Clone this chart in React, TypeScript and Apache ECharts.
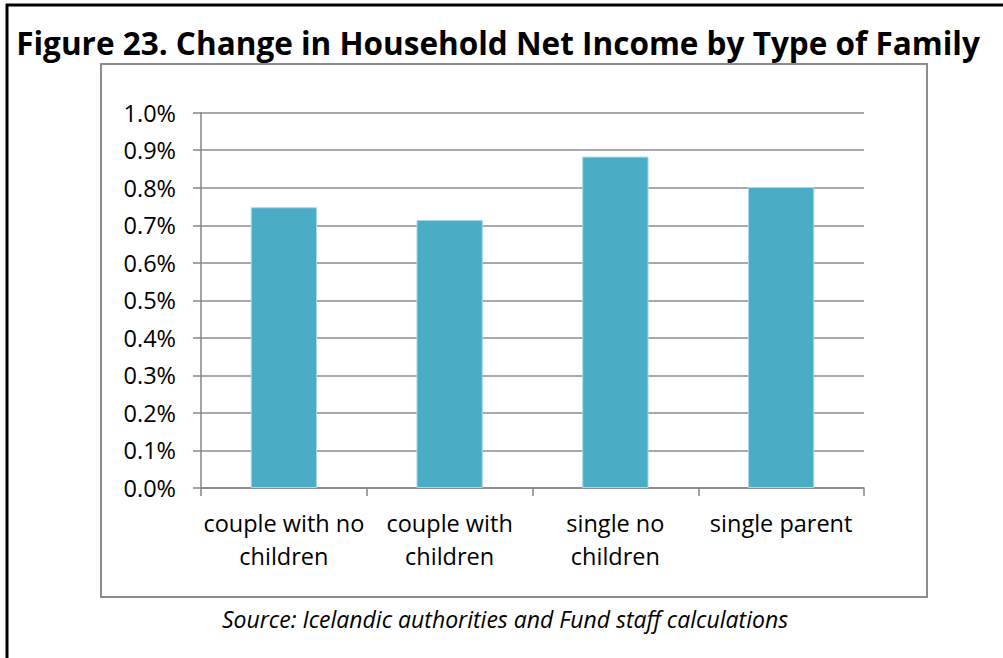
import React, { useEffect, useRef } from "react";
import * as echarts from "echarts";

const categories = ["couple with no\nchildren", "couple with\nchildren", "single no\nchildren", "single parent"];
const values = [0.748, 0.714, 0.883, 0.802];
const titleText = "Figure 23. Change in Household Net Income by Type of Family";
const sourceText = "Source: Icelandic authorities and Fund staff calculations";

const FONT = "'Open Sans', 'Noto Sans', sans-serif";

export default function App() {
  const ref = useRef<HTMLDivElement>(null);
  useEffect(() => {
    document.body.style.margin = "0";
    const chart = echarts.init(ref.current!, null, { renderer: "svg" });
    chart.setOption({
      animation: false,
      backgroundColor: "#ffffff",
      graphic: [
        { type: "line", shape: { x1: 7, y1: 4, x2: 7, y2: 658 }, style: { stroke: "#000", lineWidth: 3 } },
        { type: "line", shape: { x1: 6, y1: 5, x2: 1003, y2: 5 }, style: { stroke: "#000", lineWidth: 3 } },
        { type: "rect", shape: { x: 101, y: 64, width: 826, height: 533 }, style: { fill: "none", stroke: "#8c8c8c", lineWidth: 2 }, z: -1 },
        {
          type: "text", x: 498, y: 42,
          style: { text: titleText, font: `bold 31.5px ${FONT}`, fill: "#000", textAlign: "center", textVerticalAlign: "middle" },
        },
        {
          type: "text", x: 505, y: 619,
          style: { text: sourceText, font: `italic 23px ${FONT}`, fill: "#000", textAlign: "center", textVerticalAlign: "middle" },
        },
      ],
      grid: { left: 201, right: 139, top: 112.7, bottom: 170, containLabel: false },
      xAxis: {
        type: "category",
        data: categories,
        axisLine: { show: true, lineStyle: { color: "#868686", width: 1.5 } },
        axisTick: { show: true, length: 8, alignWithLabel: false, lineStyle: { color: "#868686", width: 1.5 } },
        axisLabel: { color: "#000", fontFamily: FONT, fontSize: 23.5, lineHeight: 33, margin: 18, interval: 0 },
      },
      yAxis: {
        type: "value",
        min: 0,
        max: 1.0,
        interval: 0.1,
        axisLine: { show: true, lineStyle: { color: "#868686", width: 1.5 } },
        axisTick: { show: true, length: 8, lineStyle: { color: "#868686", width: 1.5 } },
        axisLabel: {
          color: "#000", fontFamily: FONT, fontSize: 23.5, margin: 25,
          formatter: (v: number) => v.toFixed(1) + "%",
        },
        splitLine: { show: true, lineStyle: { color: "#8c8c8c", width: 1.5 } },
      },
      series: [
        {
          type: "bar",
          data: values,
          barWidth: "40%",
          itemStyle: { color: "#4BACC6", borderColor: "#a9d8e6", borderWidth: 1 },
        },
      ],
    });
    return () => chart.dispose();
  }, []);
  return <div ref={ref} style={{ width: 1003, height: 658 }} />;
}
